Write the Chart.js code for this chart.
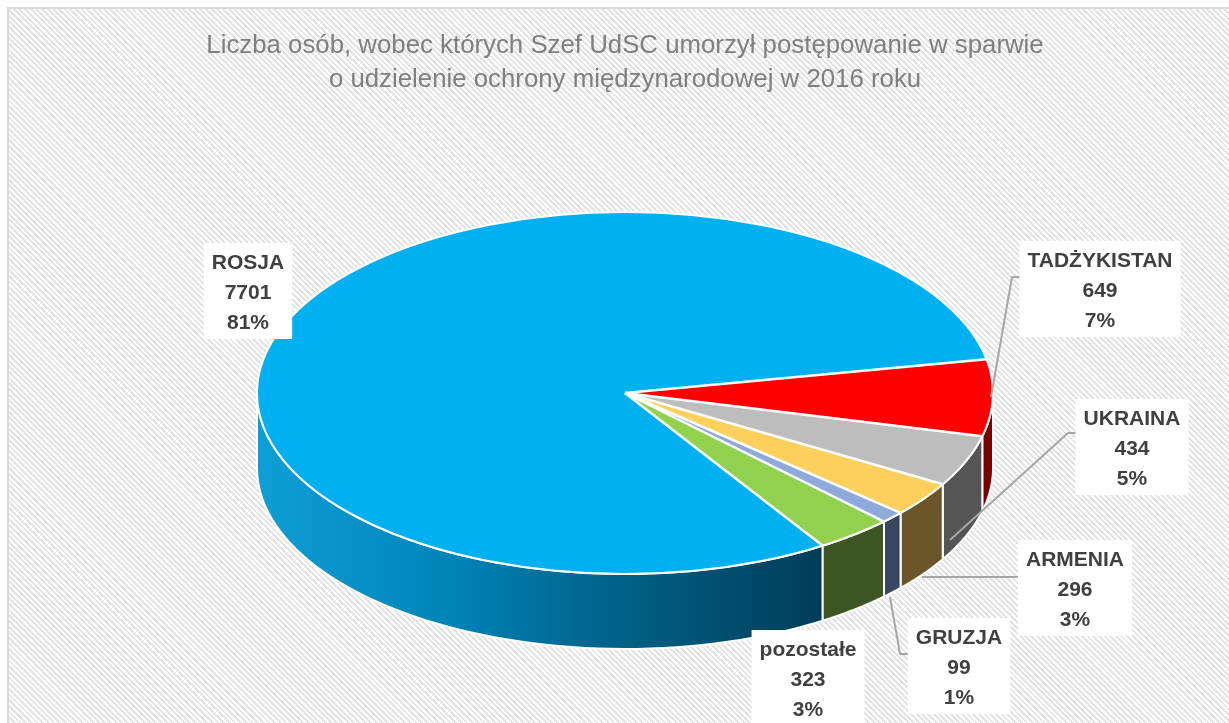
<!DOCTYPE html>
<html>
<head>
<meta charset="utf-8">
<script src="https://cdn.jsdelivr.net/npm/chart.js@4.4.0/dist/chart.umd.min.js"></script>
<style>
  body { margin: 0; background: #fff; }
  #wrap { position: relative; width: 1229px; height: 723px; overflow: hidden; }
  #bg {
    position: absolute; left: 7px; top: 7px; right: -4px; bottom: -4px;
    border-left: 2px solid #d9d9d9; border-top: 2px solid #d9d9d9;
    background: repeating-linear-gradient(45deg, #ffffff 0 2px, #e3e3e3 2px 4px);
  }
  #chart { position: absolute; left: 0; top: 0; }
</style>
</head>
<body>
<div id="wrap">
  <div id="bg"></div>
  <canvas id="chart" width="1229" height="723"></canvas>
</div>
<script>
// data
const countries = ['ROSJA', 'TADŻYKISTAN', 'UKRAINA', 'ARMENIA', 'GRUZJA', 'pozostałe'];
const persons = [7701, 649, 434, 296, 99, 323];
const titleLines = [
    'Liczba osób, wobec których Szef UdSC umorzył postępowanie w sparwie',
    'o udzielenie ochrony międzynarodowej w 2016 roku'
];

// colours
const topColors = ['#00b0f0', '#ff0000', '#bdbdbd', '#fdd05e', '#8eaadb', '#92d050'];
const wallColors = [null, '#7a0000', '#555555', '#6a5628', '#3a4560', '#3d5522'];

// look of the 3d pie (screen pixels)
const RX = 368, RY = 181, DEPTH = 75;

// label boxes: centre x, top y
const labelPos = [[248, 243], [1100, 241], [1132, 399], [1075, 540], [959, 618], [808, 630]];
const leaders = [
    null,
    [[1023, 277], [1012, 277], [991, 397]],
    [[1078, 433], [1068, 433], [950, 540]],
    [[1018, 577], [922, 577]],
    [[912, 654], [900, 654], [890, 597]],
    null
];

const total = persons.reduce((a, b) => a + b, 0);

function frontPieces(a0, a1) {
    const out = [];
    [-2 * Math.PI, 0, 2 * Math.PI].forEach(s => {
        const lo = Math.max(a0 + s, 0), hi = Math.min(a1 + s, Math.PI);
        if (hi > lo) out.push([lo, hi]);
    });
    return out;
}

const pie3d = {
    id: 'pie3d',
    beforeDatasetsDraw(chart) {
        const ctx = chart.ctx;
        const arcs = chart.getDatasetMeta(0).data;
        const cx = arcs[0].x, cy = arcs[0].y, r = arcs[0].outerRadius;

        // side walls
        arcs.forEach((arc, i) => {
            frontPieces(arc.startAngle, arc.endAngle).forEach(([t0, t1]) => {
                const n = 60;
                ctx.beginPath();
                for (let k = 0; k <= n; k++) {
                    const t = t0 + (t1 - t0) * k / n;
                    ctx.lineTo(cx + RX * Math.cos(t), cy + RY * Math.sin(t));
                }
                for (let k = n; k >= 0; k--) {
                    const t = t0 + (t1 - t0) * k / n;
                    ctx.lineTo(cx + RX * Math.cos(t), cy + RY * Math.sin(t) + DEPTH);
                }
                ctx.closePath();
                if (i === 0) {
                    const g = ctx.createLinearGradient(cx - RX, 0, cx + RX * Math.cos(t0), 0);
                    g.addColorStop(0, '#0e9fd6');
                    g.addColorStop(0.35, '#0083b6');
                    g.addColorStop(0.6, '#00658d');
                    g.addColorStop(1, '#003d58');
                    ctx.fillStyle = g;
                } else {
                    ctx.fillStyle = wallColors[i];
                }
                ctx.fill();
                ctx.strokeStyle = '#ffffff';
                ctx.lineWidth = 2;
                ctx.stroke();
            });
        });

        // squash the pie into an ellipse for the top face
        ctx.save();
        ctx.translate(cx, cy);
        ctx.scale(RX / r, RY / r);
        ctx.translate(-cx, -cy);
    },
    afterDatasetsDraw(chart) {
        const ctx = chart.ctx;
        ctx.restore();
        const arcs = chart.getDatasetMeta(0).data;
        const cx = arcs[0].x, cy = arcs[0].y;

        ctx.save();
        ctx.strokeStyle = '#ffffff';
        ctx.lineWidth = 2.5;
        arcs.forEach(arc => {
            ctx.beginPath();
            ctx.moveTo(cx, cy);
            ctx.lineTo(cx + RX * Math.cos(arc.startAngle), cy + RY * Math.sin(arc.startAngle));
            ctx.stroke();
        });
        ctx.beginPath();
        ctx.ellipse(cx, cy, RX, RY, 0, 0, 2 * Math.PI);
        ctx.lineWidth = 2;
        ctx.stroke();
        ctx.restore();
    },
    afterDraw(chart) {
        const ctx = chart.ctx;
        ctx.save();

        // title
        ctx.fillStyle = '#7f7f7f';
        ctx.textAlign = 'center';
        ctx.textBaseline = 'alphabetic';
        ctx.font = '29px "Liberation Sans Narrow", "Liberation Sans", sans-serif';
        const w = ctx.measureText(titleLines[0]).width;
        const size = 29 * 836 / w;
        ctx.font = size.toFixed(1) + 'px "Liberation Sans Narrow", "Liberation Sans", sans-serif';
        ctx.fillText(titleLines[0], 625, 53);
        ctx.fillText(titleLines[1], 625, 87);

        // leader lines
        ctx.strokeStyle = '#a6a6a6';
        ctx.lineWidth = 2;
        leaders.forEach(pts => {
            if (!pts) return;
            ctx.beginPath();
            pts.forEach(([x, y], k) => k ? ctx.lineTo(x, y) : ctx.moveTo(x, y));
            ctx.stroke();
        });

        // data labels
        ctx.font = 'bold 21px "Liberation Sans", sans-serif';
        ctx.textBaseline = 'middle';
        countries.forEach((name, i) => {
            const lines = [name, String(persons[i]), Math.round(persons[i] / total * 100) + '%'];
            const tw = Math.max(...lines.map(s => ctx.measureText(s).width));
            const [x, y] = labelPos[i];
            ctx.fillStyle = '#ffffff';
            ctx.fillRect(x - tw / 2 - 8, y, tw + 16, 96);
            ctx.fillStyle = '#404040';
            lines.forEach((s, k) => ctx.fillText(s, x, y + 20 + k * 30));
        });
        ctx.restore();
    }
};

new Chart(document.getElementById('chart'), {
    type: 'pie',
    data: {
        labels: countries,
        datasets: [{
            data: persons,
            backgroundColor: topColors,
            borderWidth: 0,
            clip: false
        }]
    },
    options: {
        responsive: false,
        devicePixelRatio: 1,
        animation: false,
        rotation: 147.5,
        layout: {
            padding: { left: 221, right: 200, top: 163, bottom: 100 }
        },
        plugins: {
            legend: { display: false },
            tooltip: { enabled: false }
        }
    },
    plugins: [pie3d]
});
</script>
</body>
</html>
